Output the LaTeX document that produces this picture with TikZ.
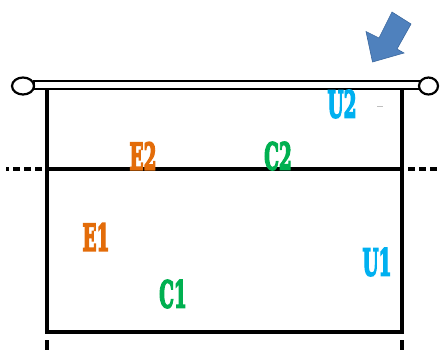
\documentclass[tikz,border=0pt]{standalone}
\usepackage{fontspec}
\usepackage{graphicx}
\usetikzlibrary{shapes.geometric}
\newfontfamily\labfont{DejaVu Serif}[BoldFeatures={FakeBold=5}]
\definecolor{uc}{HTML}{00B0F0}
\definecolor{ec}{HTML}{E36C09}
\definecolor{cc}{HTML}{00B050}
\definecolor{arr}{HTML}{4F81BD}
\definecolor{arrd}{HTML}{3A679E}
\newcommand{\lbl}[1]{\scalebox{0.5}[1]{#1}}
\tikzset{
  wall/.style={line width=4pt},
  bar/.style={line width=2.2pt},
  lab/.style={font=\labfont\bfseries\fontsize{37}{37}\selectfont, inner sep=0pt, anchor=center},
}
\begin{document}
\begin{tikzpicture}[x=1pt,y=-1pt]
\useasboundingbox (0,0) rectangle (441,349);
% coordinates
\coordinate (TL) at (47,89);
\coordinate (TR) at (402,89);
\coordinate (ML) at (47,169);
\coordinate (MR) at (402,169);
\coordinate (BL) at (47,332);
\coordinate (BR) at (402,332);
% frame
\draw[wall, line cap=rect] (TL) -- (BL) -- (BR) -- (TR);
\draw[wall] (ML) -- (MR);
\draw[wall, dash pattern=on 7pt off 4pt] (42,169) -- (6,169);
\draw[wall, dash pattern=on 7pt off 4pt] (408,169) -- (441,169);
\draw[wall] (47,340) -- (47,352);
\draw[wall] (402,340) -- (402,352);
% top bar
\draw[bar, fill=white] (34,81) rectangle (420,89);
\node[draw, line width=2.2pt, fill=white, ellipse, minimum width=22pt, minimum height=17pt, inner sep=0pt] (lc) at (23,86) {};
\node[draw, line width=2.2pt, fill=white, ellipse, minimum width=19pt, minimum height=17pt, inner sep=0pt] (rc) at (428.5,86) {};
% arrow
\draw[fill=arr, draw=arrd, line width=0.6pt]
  (392,12) -- (411,24) -- (397,49) -- (404,53) -- (372.5,62) -- (366,31.5) -- (379,38) -- cycle;
% labels
\node[lab, text=uc] (u2) at (342,104) {\lbl{U2}};
\draw[gray!50, line width=0.8pt] (377,106) -- (383,106);
\node[lab, text=ec] (e2) at (143,156) {\lbl{E2}};
\node[lab, text=cc] (c2) at (278,156) {\lbl{C2}};
\node[lab, text=ec] (e1) at (96,237) {\lbl{E1}};
\node[lab, text=uc] (u1) at (377,262) {\lbl{U1}};
\node[lab, text=cc] (c1) at (173,294) {\lbl{C1}};
\end{tikzpicture}
\end{document}
